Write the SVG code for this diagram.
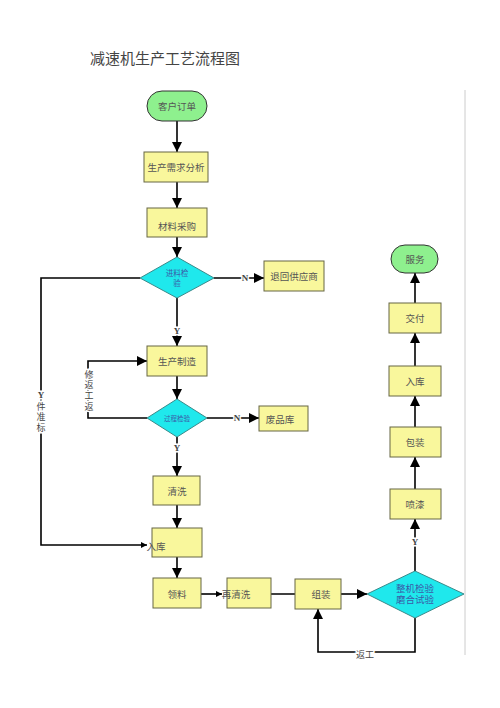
<svg xmlns="http://www.w3.org/2000/svg" width="500" height="708" viewBox="0 0 500 708">
<style>
.t{font-family:"Liberation Sans","Noto Sans CJK SC",sans-serif;fill:#555;text-anchor:middle}
.n{font-size:9.5px}
.dt{fill:#3b5ba8}
.box{fill:#f9f79c;stroke:#666644;stroke-width:1}
.dia{fill:#1fe8ec;stroke:#3a8a8a;stroke-width:1}
.cap{fill:#8ef08e;stroke:#333;stroke-width:1}
.c{fill:none;stroke:#000;stroke-width:1.6}
.lbl{font-family:"Liberation Serif","Noto Sans CJK SC",serif;font-size:9px;fill:#444;text-anchor:middle;stroke:#fff;stroke-width:3;paint-order:stroke}
</style>
<defs>
<marker id="a" markerUnits="userSpaceOnUse" markerWidth="10" markerHeight="10" viewBox="0 0 10 10" refX="10" refY="5" orient="auto"><path d="M0,0 L10,5 L0,10 z" fill="#000"/></marker>
<marker id="s" markerUnits="userSpaceOnUse" markerWidth="6" markerHeight="6" viewBox="0 0 10 10" refX="10" refY="5" orient="auto"><path d="M0,0 L10,5 L0,10 z" fill="#000"/></marker>
</defs>
<rect width="500" height="708" fill="#fff"/>
<text x="90" y="64" font-family="'Liberation Sans','Noto Sans CJK SC',sans-serif" font-size="15" fill="#444">减速机生产工艺流程图</text>
<line x1="465" y1="90" x2="465" y2="655" stroke="#ccc" stroke-width="1"/>

<g id="connectors">
<path class="c" d="M177,121 V152" marker-end="url(#a)"/>
<path class="c" d="M177,182 V208" marker-end="url(#a)"/>
<path class="c" d="M177,237 V257" marker-end="url(#a)"/>
<path class="c" d="M214,278 H264" marker-end="url(#a)"/>
<path class="c" d="M177,298 V346" marker-end="url(#a)"/>
<path class="c" d="M177,376 V399" marker-end="url(#a)"/>
<path class="c" d="M207,418 H259" marker-end="url(#a)"/>
<path class="c" d="M177,437 V476" marker-end="url(#a)"/>
<path class="c" d="M147,418 H88 V361 H147" marker-end="url(#a)"/>
<path class="c" d="M140,278 H41 V545 H147" marker-end="url(#s)"/>
<path class="c" d="M177,505 V528" marker-end="url(#a)"/>
<path class="c" d="M177,557 V578" marker-end="url(#a)"/>
<path class="c" d="M201,594 H222" marker-end="url(#s)"/>
<path class="c" d="M271,594 H310" marker-end="url(#s)"/>
<path class="c" d="M341,594 H367" marker-end="url(#a)"/>
<path class="c" d="M415,618 V652 H318 V609" marker-end="url(#a)"/>
<path class="c" d="M415,571 V519" marker-end="url(#a)"/>
<path class="c" d="M415,489 V457" marker-end="url(#a)"/>
<path class="c" d="M415,427 V396" marker-end="url(#a)"/>
<path class="c" d="M415,366 V333" marker-end="url(#a)"/>
<path class="c" d="M415,303 V273" marker-end="url(#a)"/>
<text class="lbl" x="245" y="281" font-weight="bold">N</text>
<text class="lbl" x="177" y="334" font-weight="bold">Y</text>
<text class="lbl" x="237" y="421" font-weight="bold">N</text>
<text class="lbl" x="177" y="451" font-weight="bold">Y</text>
<text class="lbl" x="415" y="545" font-weight="bold">Y</text>
<text class="lbl" x="89" y="378">修</text>
<text class="lbl" x="89" y="388">返</text>
<text class="lbl" x="89" y="399">工</text>
<text class="lbl" x="89" y="410">返</text>
<text class="lbl" x="41" y="398" font-weight="bold">Y</text>
<text class="lbl" x="41" y="410">件</text>
<text class="lbl" x="41" y="420">准</text>
<text class="lbl" x="41" y="431">标</text>
<text class="lbl" x="365" y="658">返工</text>
</g>

<g id="n1"><rect class="cap" x="147" y="91" width="60" height="30" rx="15"/><text class="t n" x="177" y="110">客户订单</text></g>
<g id="n2"><rect class="box" x="144" y="152" width="64" height="30"/><text class="t n" x="176" y="171">生产需求分析</text></g>
<g id="n3"><rect class="box" x="147" y="208" width="60" height="29"/><text class="t n" x="177" y="230">材料采购</text></g>
<g id="n4"><polygon class="dia" points="177,257 214,278 177,298 140,278"/><text class="t dt" font-size="7.5" x="177" y="276">进料检</text><text class="t dt" font-size="7.5" x="177" y="286">验</text></g>
<g id="n5"><rect class="box" x="264" y="261" width="60" height="30"/><text class="t n" x="294" y="280">退回供应商</text></g>
<g id="n6"><rect class="box" x="147" y="346" width="60" height="30"/><text class="t n" x="177" y="365">生产制造</text></g>
<g id="n7"><polygon class="dia" points="177,399 207,418 177,437 147,418"/><text class="t dt" font-size="6.5" x="177" y="421">过程检验</text></g>
<g id="n8"><rect class="box" x="259" y="406" width="49" height="25"/><text class="t n" x="280" y="423">废品库</text></g>
<g id="n9"><rect class="box" x="153" y="476" width="47" height="29"/><text class="t n" x="177" y="495">清洗</text></g>
<g id="n10"><rect class="box" x="152" y="528" width="50" height="29"/><text class="t n" x="156" y="550">入库</text></g>
<g id="n11"><rect class="box" x="153" y="578" width="48" height="30"/><text class="t n" x="177" y="598">领料</text></g>
<g id="n12"><rect class="box" x="227" y="578" width="44" height="30"/><text class="t n" x="236" y="598">再清洗</text></g>
<g id="n13"><rect class="box" x="295" y="579" width="46" height="30"/><text class="t n" x="321" y="598">组装</text></g>
<g id="n14"><polygon class="dia" points="415,571 464,594 415,618 367,594"/><text class="t dt" font-size="9.5" x="415" y="592">整机检验</text><text class="t dt" font-size="9.5" x="415" y="603">磨合试验</text></g>
<g id="n15"><rect class="box" x="390" y="489" width="51" height="30"/><text class="t n" x="415" y="508">喷漆</text></g>
<g id="n16"><rect class="box" x="390" y="427" width="51" height="30"/><text class="t n" x="415" y="446">包装</text></g>
<g id="n17"><rect class="box" x="389" y="366" width="52" height="30"/><text class="t n" x="415" y="385">入库</text></g>
<g id="n18"><rect class="box" x="389" y="303" width="52" height="30"/><text class="t n" x="415" y="322">交付</text></g>
<g id="n19"><rect class="cap" x="391" y="245" width="47" height="28" rx="14"/><text class="t n" x="415" y="263">服务</text></g>
</svg>
